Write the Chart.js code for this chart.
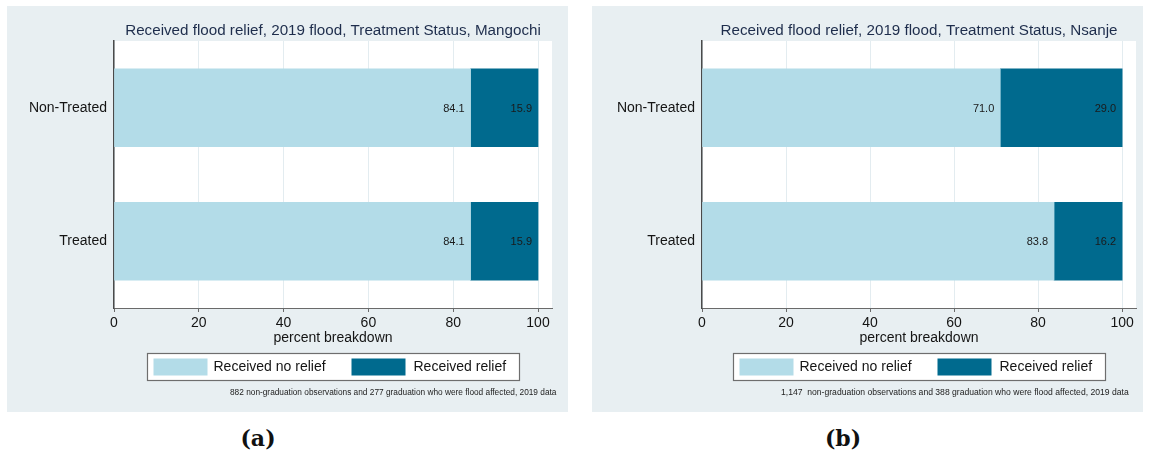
<!DOCTYPE html>
<html>
<head>
<meta charset="utf-8">
<script src="https://cdn.jsdelivr.net/npm/chart.js@4.4.1/dist/chart.umd.min.js"></script>
<style>
  html, body { margin: 0; padding: 0; background: #ffffff; }
  body { width: 1150px; height: 458px; position: relative; overflow: hidden; }
  canvas { position: absolute; }
  .cap { position: absolute; font-family: "DejaVu Serif", serif; font-weight: bold; font-size: 22px; color: #111;
         transform: translate(-50%, -50%); white-space: nowrap; }
</style>
</head>
<body>
<canvas id="mangochi" width="561" height="406" style="left:7px;top:6px;"></canvas>
<canvas id="nsanje" width="551" height="406" style="left:592px;top:6px;"></canvas>
<div class="cap" style="left:258px;top:438px;">(a)</div>
<div class="cap" style="left:843px;top:438px;">(b)</div>
<script>
// Treatment groups shown on the vertical axis
const categories = ['Non-Treated', 'Treated'];
const seriesNames = ['Received no relief', 'Received relief'];

// Percent breakdown, Mangochi
const mangochiNoRelief = [84.1, 84.1];
const mangochiRelief = [15.9, 15.9];

// Percent breakdown, Nsanje
const nsanjeNoRelief = [71.0, 83.8];
const nsanjeRelief = [29.0, 16.2];

// Axis ticks
const xTicks = [0, 20, 40, 60, 80, 100];

const COLORS = {
  panel: '#e8eff2',
  light: '#b3dce8',
  dark: '#006a8e',
  grid: '#e3ecf0',
  title: '#1e2d4c',
  text: '#141414'
};
const FONT = '"Liberation Sans", Arial, Helvetica, sans-serif';

// Panel decorations: background, plot area, title, axis title, framed legend, note
const panelPlugin = {
  id: 'panelDecor',
  beforeDraw(chart, args, opts) {
    const { ctx, chartArea: a } = chart;
    ctx.save();
    ctx.fillStyle = COLORS.panel;
    ctx.fillRect(0, 0, chart.width, chart.height);
    ctx.fillStyle = '#ffffff';
    ctx.fillRect(a.left, a.top, a.right - a.left, a.bottom - a.top);
    ctx.restore();
  },
  afterDraw(chart, args, opts) {
    const { ctx, chartArea: a } = chart;
    const cx = (a.left + a.right) / 2;
    ctx.save();
    ctx.textBaseline = 'middle';

    // title
    ctx.font = '15.2px ' + FONT;
    ctx.fillStyle = COLORS.title;
    ctx.textAlign = 'center';
    ctx.fillText(opts.title, cx, a.top - 10);

    // axis title
    ctx.font = '14px ' + FONT;
    ctx.fillStyle = COLORS.text;
    ctx.fillText('percent breakdown', cx, a.bottom + 30);

    // legend
    const bw = 372, bh = 27;
    const bx = Math.round(cx - bw / 2) + 0.5, by = a.bottom + 45.5;
    ctx.fillStyle = '#ffffff';
    ctx.fillRect(bx, by, bw, bh);
    ctx.strokeStyle = '#6e6e6e';
    ctx.lineWidth = 1.2;
    ctx.strokeRect(bx, by, bw, bh);
    const swatchX = [6, 204];
    const labelX = [66, 266];
    const swatchColors = [COLORS.light, COLORS.dark];
    ctx.textAlign = 'left';
    seriesNames.forEach((name, i) => {
      ctx.fillStyle = swatchColors[i];
      ctx.fillRect(bx + swatchX[i], by + 5, 54, 17);
      ctx.fillStyle = COLORS.text;
      ctx.fillText(name, bx + labelX[i], by + bh / 2 + 0.5);
    });

    // note
    ctx.font = opts.noteSize + 'px ' + FONT;
    ctx.fillStyle = '#222';
    ctx.fillText(opts.note, opts.noteX, a.bottom + 85);

    // value labels at the right end of each segment
    ctx.font = '11px ' + FONT;
    ctx.textAlign = 'right';
    ctx.fillStyle = '#1a1a1a';
    chart.data.datasets.forEach((ds, di) => {
      const meta = chart.getDatasetMeta(di);
      meta.data.forEach((el, i) => {
        ctx.fillText(ds.data[i].toFixed(1), el.x - 6, el.y + 1);
      });
    });
    ctx.restore();
  }
};

function makeChart(id, noRelief, relief, opts) {
  const canvas = document.getElementById(id);
  return new Chart(canvas, {
    type: 'bar',
    data: {
      labels: categories,
      datasets: [
        { label: seriesNames[0], data: noRelief, backgroundColor: COLORS.light,
          borderWidth: 0, barThickness: 78 },
        { label: seriesNames[1], data: relief, backgroundColor: COLORS.dark,
          borderWidth: 0, barThickness: 78 }
      ]
    },
    plugins: [panelPlugin],
    options: {
      indexAxis: 'y',
      responsive: false,
      animation: false,
      devicePixelRatio: 1,
      layout: { padding: { left: 0, right: canvas.width - opts.plotRight, top: 35, bottom: 64 } },
      plugins: {
        legend: { display: false },
        title: { display: false },
        tooltip: { enabled: false },
        panelDecor: opts
      },
      scales: {
        x: {
          type: 'linear',
          stacked: true,
          min: 0,
          max: 103.3,
          ticks: {
            stepSize: 20,
            includeBounds: false,
            color: COLORS.text,
            font: { family: FONT, size: 14 },
            padding: 3,
            maxRotation: 0
          },
          afterBuildTicks(scale) {
            scale.ticks = xTicks.map(v => ({ value: v }));
          },
          afterFit(scale) { scale.height = 40; },
          grid: { color: COLORS.grid, lineWidth: 1, tickColor: '#6a6a6a', tickLength: 4, drawTicks: true },
          border: { display: true, color: '#6a6a6a', width: 1 }
        },
        y: {
          type: 'category',
          stacked: true,
          offset: true,
          ticks: {
            color: COLORS.text,
            font: { family: FONT, size: 14 },
            padding: 7
          },
          afterFit(scale) { scale.width = opts.plotLeft; },
          grid: { display: false, drawTicks: false },
          border: { display: true, color: '#4a4a4a', width: 1.5 }
        }
      }
    }
  });
}

makeChart('mangochi', mangochiNoRelief, mangochiRelief, {
  title: 'Received flood relief, 2019 flood, Treatment Status, Mangochi',
  note: '882 non-graduation observations and 277 graduation who were flood affected, 2019 data',
  noteX: 223,
  noteSize: 8.3,
  plotLeft: 107,
  plotRight: 545
});

makeChart('nsanje', nsanjeNoRelief, nsanjeRelief, {
  title: 'Received flood relief, 2019 flood, Treatment Status, Nsanje',
  note: '1,147  non-graduation observations and 388 graduation who were flood affected, 2019 data',
  noteX: 189,
  noteSize: 8.6,
  plotLeft: 110,
  plotRight: 544
});
</script>
</body>
</html>
